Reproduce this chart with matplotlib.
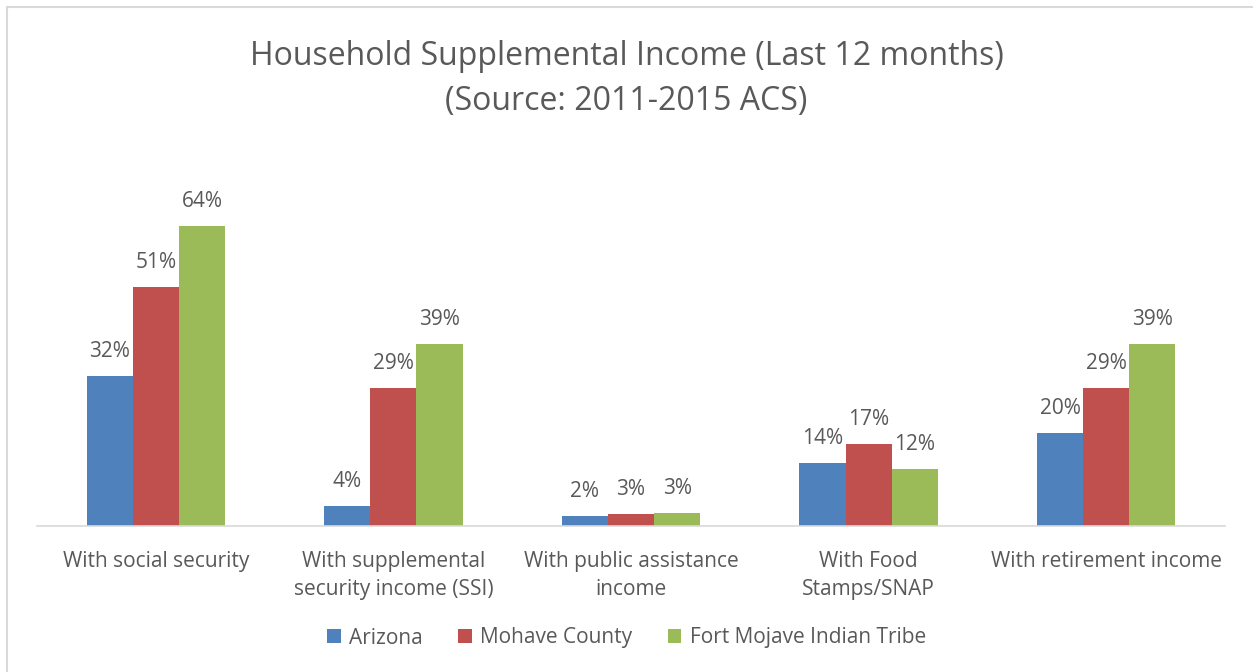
import numpy as np
import matplotlib
matplotlib.use('Agg')
import matplotlib.pyplot as plt
from matplotlib.patches import Rectangle

# data
categories = ['With social security', 'With supplemental\nsecurity income (SSI)',
              'With public assistance\nincome', 'With Food\nStamps/SNAP',
              'With retirement income']
arizona = [32, 4.3, 2.2, 13.5, 19.8]
mohave = [51, 29.4, 2.6, 17.4, 29.4]
fort_mojave = [64, 38.8, 2.7, 12.2, 38.8]
series_names = ['Arizona', 'Mohave County', 'Fort Mojave Indian Tribe']
colors = ['#4F81BD', '#C0504D', '#9BBB59']

plt.rcParams['font.family'] = ['Open Sans', 'DejaVu Sans']
grey = '#595959'

fig = plt.figure(figsize=(12.53, 6.72), dpi=100)
ax = fig.add_axes([37 / 1253, 1 - 526 / 672, 1188 / 1253, 328 / 672])

x = np.arange(len(categories))
w = 0.194
for i, (vals, name, c) in enumerate(zip([arizona, mohave, fort_mojave], series_names, colors)):
    bars = ax.bar(x + (i - 1) * w, vals, w, color=c, label=name)
    for b, v in zip(bars, vals):
        ax.text(b.get_x() + b.get_width() / 2, v + 3.0, f'{v:.0f}%',
                ha='center', va='bottom', fontsize=15, color=grey)

ax.set_xlim(-0.5, len(categories) - 0.5)
ax.set_ylim(0, 70)
ax.set_yticks([])
ax.set_xticks(x)
ax.set_xticklabels(categories, fontsize=15, color=grey, linespacing=1.45)
ax.tick_params(axis='x', length=0, pad=18)
for s in ['top', 'right', 'left']:
    ax.spines[s].set_visible(False)
ax.spines['bottom'].set_color('#D9D9D9')
ax.spines['bottom'].set_linewidth(1.2)

fig.text(0.5, 1 - 79 / 672, 'Household Supplemental Income (Last 12 months)\n(Source: 2011-2015 ACS)',
         ha='center', va='center', fontsize=23, color=grey, linespacing=1.45)

leg = fig.legend(loc='center', bbox_to_anchor=(0.5, 1 - 638 / 672), ncol=3, frameon=False,
                 fontsize=15, handlelength=0.65, handleheight=0.65, columnspacing=1.7,
                 handletextpad=0.4)
for t in leg.get_texts():
    t.set_color(grey)

# chart border (only top/left are visible in the crop)
fig.patches.append(Rectangle((7 / 1253, -0.1), 1.2, 1 - 7 / 672 + 0.1, transform=fig.transFigure,
                             fill=False, edgecolor='#D9D9D9', linewidth=1.5))

fig.savefig('out.png', dpi=100)
